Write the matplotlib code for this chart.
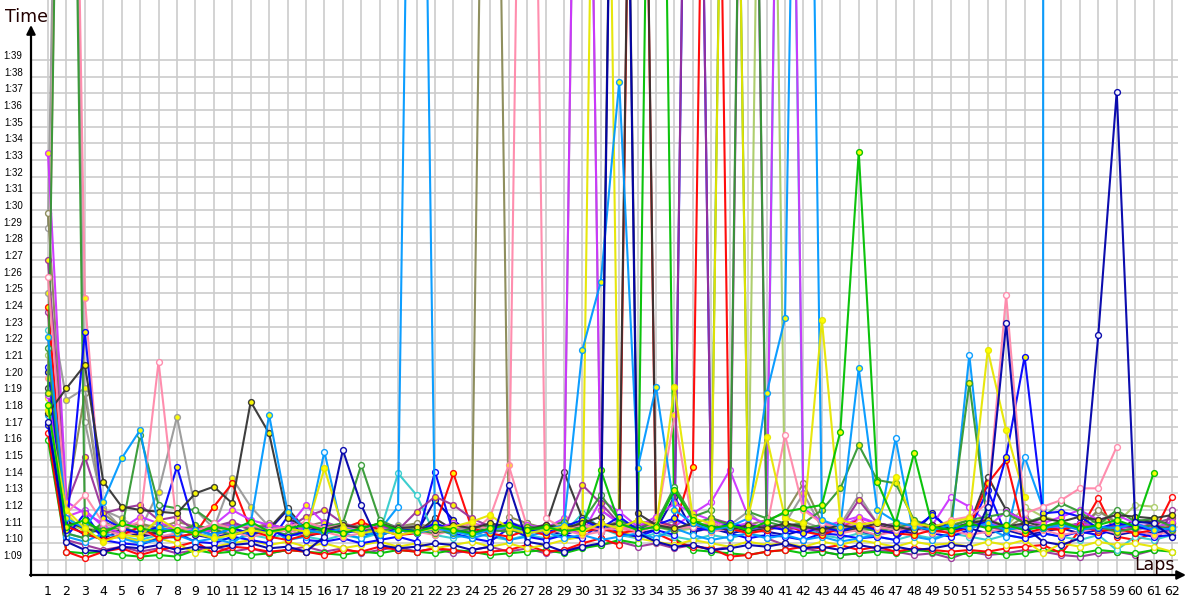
import matplotlib
matplotlib.use("Agg")
import matplotlib.pyplot as plt
import numpy as np
from matplotlib.transforms import ScaledTranslation

P = 150.0   # pit-stop lap, far above the visible range
V = 3000.0  # last lap before retiring, goes straight up

laps = list(range(1, 63))
y_ticks = list(range(69, 100))
y_tick_labels = [f"1:{s - 60:02d}" for s in y_ticks]

red_1 = [76.6, 69.5, 69.1, 69.5, 69.7, 69.3, 69.6, 69.8, 70.1, 69.4,
         69.8, 69.7, 69.5, 69.6, 69.5, 69.3, 69.6, 69.5, 69.8, 69.6,
         69.5, 69.7, 69.6, 69.4, 69.5, 69.6, 69.9, 69.5, 69.6, 70.0,
         70.3, 69.9, P, 70.6, 70.1, 69.8, 69.7, 69.2, 69.3, 69.5,
         69.6, 69.8, 69.7, 69.9, 69.6, 69.8, 69.5, 69.7, 69.6, 69.5,
         69.6, 69.5, 69.7, 69.8, 69.9, 69.4, 70.8, 72.7, 70.4, 70.2,
         70.6, 72.8]
red_2 = [84.2, 71.0, 70.6, 70.2, 70.5, 71.0, 70.3, 70.4, 70.6, 72.2,
         73.6, 70.8, 70.4, 70.2, 70.5, 70.6, 70.9, 71.3, 70.8, 70.5,
         70.6, 71.0, 74.2, 70.9, 70.6, 70.4, 70.8, 70.5, 71.0, 70.7,
         70.9, 70.6, 70.8, 71.3, 71.0, 74.6, P, 70.9, 70.6, 70.8,
         71.1, 70.7, 70.5, 70.9, 71.4, 70.8, 70.6, 70.5, 70.8, 70.6,
         71.0, 73.6, 75.0, 70.6, 70.9, 70.8, 71.1, 70.7, 70.9, 70.6,
         70.8, 71.0]
blue_1 = [80.6, 70.4, 71.8, 70.2, 70.0, 69.9, 70.3, 70.6, 70.1, 70.0,
          70.4, 70.2, 70.0, 71.6, 70.2, 70.1, 70.3, 70.0, 70.2, 70.4,
          70.1, 74.3, 70.6, 70.3, 70.1, 70.9, 70.4, 70.2, 70.5, 70.3,
          71.2, 70.6, 70.4, 70.8, 70.5, P, 71.4, 70.6, 70.3, 70.5,
          70.4, 70.2, 70.6, 70.5, 70.3, 70.4, 70.2, 71.3, 70.6, 70.4,
          70.8, 73.2, 70.5, 70.3, 70.6, 70.4, 70.7, 70.5, 70.9, 70.6,
          70.4, 70.5]
blue_2 = [77.1, 70.8, 82.7, 71.5, 70.9, 70.6, 71.0, 74.6, 70.8, 70.5,
          70.9, 70.6, 70.8, 70.4, 70.7, 71.0, 70.6, 70.8, 70.5, 70.9,
          70.7, 71.2, 70.8, 70.6, 70.9, 71.3, 70.8, 70.7, 71.0, 71.4,
          70.9, 71.6, 70.8, 71.1, 71.5, 70.9, 70.8, 71.2, 70.9, 71.0,
          70.8, 70.6, 71.0, 70.7, 71.1, 70.8, 70.6, 70.9, 71.7, 70.8,
          71.0, 71.3, 75.2, 81.2, 71.8, 71.9, 71.6, 70.9, 71.2, 71.0,
          70.8, 70.9]
navy_1 = [77.3, 70.1, 69.6, 69.5, 69.8, 69.7, 69.9, 69.6, 69.8, 69.7,
          69.9, 70.0, 69.7, 69.8, 69.5, 70.4, 75.6, 72.3, 69.9, 69.7,
          69.8, 70.0, 69.9, 69.6, 69.8, 73.5, 70.1, 69.9, 69.5, 69.8,
          70.0, P, 70.6, 70.1, 69.8, 69.9, 69.6, 69.7, 69.9, 69.8,
          70.0, 69.7, 69.8, 69.6, 69.9, 69.7, 69.8, 69.6, 69.7, 69.9,
          69.8, 72.2, 83.2, 71.0, 70.1, 69.9, 70.3, 82.5, 97.1, 71.3,
          71.2, 70.4]
navy_2 = [80.3, 71.2, 70.5, 70.3, 70.8, 70.4, 70.6, 70.9, 70.5, 70.3,
          70.7, 70.5, 70.8, 72.0, 70.4, 70.7, 70.9, 70.6, 70.5, 70.8,
          70.6, 72.6, 71.4, 70.5, 70.8, 71.0, 70.6, 70.8, 70.5, 70.9,
          70.7, 71.0, 70.6, 70.8, 72.8, 70.7, 70.9, 70.6, 70.8, 70.7,
          70.5, 70.8, 70.6, 70.9, 70.7, 70.5, 70.8, 70.6, 71.8, 70.7,
          70.9, 70.6, 70.8, 70.5, 70.7, 70.9, 70.6, 70.8, 70.5, 70.7,
          70.6, 70.8]
green_1 = [76.2, 69.5, 69.4, 69.5, 69.3, 69.2, 69.3, 69.2, 69.6, 69.4,
           69.5, 69.3, 69.4, 69.6, 69.5, 69.4, 69.3, 69.5, 69.4, 69.6,
           69.5, 69.4, 69.6, 69.5, 69.3, 69.4, 69.5, 69.6, 69.4, 69.7,
           69.9, 70.2, 70.0, P, 70.3, 69.6, 69.5, 69.4, 69.3, 69.5,
           69.6, 69.4, 69.5, 69.3, 69.4, 69.5, 69.4, 69.6, 69.5, 69.3,
           69.4, 69.5, 69.3, 69.4, 69.6, 69.5, 69.4, 69.6, 69.5, 69.4,
           69.6, 69.5]
green_2 = [78.3, 71.0, 71.4, 70.6, 71.2, 70.9, 70.7, 70.8, 70.6, 71.0,
           70.8, 71.3, 70.7, 70.9, 71.1, 70.8, 70.6, 70.9, 71.2, 70.8,
           70.7, 71.0, 70.8, 70.6, 70.9, 71.1, 70.8, 71.0, 70.7, 70.9,
           74.4, 71.2, 70.8, 71.0, 73.2, 71.4, 70.9, 71.1, 70.8, 71.3,
           71.9, 72.1, 72.3, 76.7, 93.5, 73.7, 71.2, 75.4, 71.0, 70.8,
           71.2, 70.9, 71.1, 70.8, 71.0, 71.3, 70.9, 71.1, 71.4, 71.0,
           74.2, None]
dkgreen_1 = [81.7, 70.6, 70.3, 71.3, 70.8, 76.5, 72.3, 72.1, 72.0, 71.2,
             70.9, 70.6, 70.8, 70.5, 70.7, 71.0, 71.2, 74.7, 71.4, 70.9,
             70.7, 70.8, 70.6, 70.9, 71.1, 70.8, 70.6, 71.0, 70.8, 71.3,
             72.9, 71.4, 70.9, 71.2, 73.4, 71.6, 72.0, P, 71.9, 71.5,
             71.2, 70.9, 71.1, 70.8, 71.0, 70.7, 70.9, 71.2, 70.8, 71.0,
             71.4, 71.6, 71.8, 71.2, 71.6, 72.4, 71.9, 71.1, 72.0, 71.3,
             71.5, 71.0]
dkgreen_2 = [79.0, P, 71.2, 70.8, 71.0, 70.6, 70.9, 70.7, 71.1, 70.8,
             70.5, 70.9, 70.7, 71.0, 70.6, 70.8, 71.1, 70.9, 70.7, 71.0,
             70.8, 70.6, 70.9, 71.2, 70.8, 70.7, 71.0, 70.9, 71.3, 70.8,
             71.1, 70.9, 71.4, 71.0, 70.8, 71.2, 71.5, 71.1, P, 71.3,
             71.0, 71.2, 72.0, 73.3, 75.9, 73.8, 73.6, 71.4, 71.0, 71.2,
             79.6, 71.1, 70.8, 71.0, 70.9, 71.2, 70.8, 71.0, 70.7, 70.9,
             71.1, 70.8]
ltblue_1 = [77.7, 70.4, 70.1, 70.6, 70.3, 70.0, 70.2, 70.5, 70.1, 70.3,
            70.0, 70.8, 71.0, 70.2, 70.4, 75.5, 70.6, 70.3, 70.8, 72.2,
            P, 70.9, 70.5, 70.3, 70.6, 70.2, 70.4, 70.7, 70.3, 70.5,
            70.2, 70.4, 70.6, 70.3, 70.9, 70.5, 70.2, 70.4, 70.6, 70.3,
            70.5, 70.2, 70.4, 70.1, 70.3, 70.5, 76.3, 70.4, 70.2, 70.6,
            81.3, 70.9, 70.4, 75.2, 72.1, V, None, None, None, None,
            None, None]
ltblue_2 = [82.4, 71.5, 70.9, 72.5, 75.1, 76.8, 71.0, 70.6, 70.8, 70.5,
            70.9, 71.2, 77.7, 71.9, 70.8, 70.6, 70.9, 70.7, 70.5, 70.8,
            70.6, 70.9, 70.7, 70.5, 70.8, 71.0, 70.6, 70.8, 71.1, 81.6,
            85.7, 97.7, 74.5, 79.4, 72.0, 71.2, 70.8, 71.0, 71.5, 79.0,
            83.5, P, 71.4, 71.0, 80.5, 72.0, 71.3, 71.0, 70.8, 71.1,
            70.9, 71.2, 70.8, 71.0, 70.9, 71.1, 70.8, 71.0, 70.9, 71.2,
            70.8, 70.9]
pink_1 = [86.0, 71.8, 72.9, 71.2, 70.9, 71.3, 80.9, 71.0, 70.7, 71.2,
          70.9, 71.1, 70.8, 71.0, 71.3, 70.9, 71.1, 70.8, 71.2, 70.9,
          71.0, 70.7, 70.9, 71.2, 70.8, 71.0, P, 71.5, 70.9, 71.1,
          70.8, 71.0, 70.7, 71.2, 70.9, 71.0, 71.3, 70.8, 71.1, 70.9,
          76.5, 72.0, 71.2, 70.9, 71.3, 71.0, 70.8, 71.1, 70.9, 71.4,
          71.6, 72.4, 84.9, 71.8, 72.2, 72.6, 73.3, 73.3, 75.8, None,
          None, None]
pink_2 = [79.9, P, 84.7, 70.8, 70.5, 70.7, 70.4, 70.6, 70.9, 70.5,
          70.7, 70.4, 70.6, 70.8, 70.5, 70.7, 70.4, 70.6, 70.9, 70.5,
          70.7, 70.5, 70.8, 70.6, 71.6, 74.7, 71.0, 70.6, 70.8, 70.5,
          70.7, 70.9, 70.6, 71.1, 77.7, 71.0, 70.7, 70.9, 70.6, 70.8,
          71.2, 70.7, 70.9, 70.6, 70.8, 70.5, 70.7, 70.9, 70.6, 70.8,
          70.5, 70.7, 70.9, 70.6, 70.8, 70.5, 70.7, 70.9, 70.6, 70.8,
          70.5, 70.7]
yellow_1 = [78.7, 71.8, 70.6, 70.2, 70.4, 70.1, 70.3, 70.0, 69.4, 69.8,
            70.0, 70.2, 69.9, 70.1, 69.8, 70.0, 69.7, 69.9, 70.1, 69.8,
            70.0, 69.7, 69.9, 70.1, 69.8, 70.0, 69.7, 69.9, 70.2, 70.4,
            P, 70.8, 70.3, 70.1, 69.9, 70.2, 70.0, 69.8, 70.1, 69.9,
            70.0, 69.8, 70.1, 69.9, 70.2, 70.0, 69.8, 70.1, 69.9, 70.0,
            69.8, 70.1, 69.9, 70.2, 69.4, 70.0, 69.8, 70.1, 69.9, 70.0,
            69.8, 69.5]
yellow_2 = [78.0, 72.0, 70.9, 70.1, 70.5, 70.4, 71.5, 70.8, 70.6, 70.3,
            70.5, 70.8, 70.6, 70.9, 70.7, 74.5, 70.9, 70.6, 70.8, 70.5,
            70.7, 70.9, 71.0, 71.3, 71.7, 70.9, 70.6, 70.8, 71.0, 70.7,
            71.2, 70.9, 71.4, 71.0, 79.4, 71.5, 71.2, P, 71.6, 76.4,
            71.5, 71.2, 83.4, 71.4, 71.1, 71.3, 74.0, 71.2, 71.0, 71.3,
            71.5, 81.6, 76.8, 72.8, None, None, None, None, None, None,
            None, None]
gray_1 = [88.9, P, 77.3, 72.1, 70.9, 71.2, 70.8, 71.0, 70.7, 70.9,
          71.2, 70.8, 71.0, 70.7, 70.9, 71.1, 70.8, 71.0, 70.7, 70.9,
          71.1, 70.8, 71.0, 70.7, 70.9, 71.2, 70.8, 71.0, 71.3, P,
          72.0, 71.2, 70.9, 71.1, 70.8, 71.0, 71.2, 70.9, 71.1, 70.8,
          71.0, 71.3, 70.9, 71.1, 72.9, 71.2, 71.0, 70.8, 71.1, 70.9,
          71.2, 71.0, 70.8, 71.1, 70.9, 71.2, 71.0, 71.9, 71.3, 71.0,
          70.8, 71.1]
gray_2 = [85.0, 78.6, 79.3, 72.0, 71.5, 70.8, 73.1, 77.6, 72.0, 70.9,
          73.9, 72.2, 71.0, 70.8, 71.1, 70.9, 70.7, 71.0, 70.8, 71.1,
          70.9, 71.2, 70.8, 71.0, 70.7, 71.3, 70.9, 71.1, 70.8, 71.0,
          71.2, 70.9, 71.1, 70.8, 71.4, 71.0, 70.8, 71.1, 71.9, 70.9,
          71.2, 73.0, 70.9, 71.1, 70.8, 71.0, 71.2, 70.9, 71.1, 70.8,
          71.0, 71.3, 70.9, 71.1, 70.8, 71.0, 71.2, 70.9, 71.1, 70.8,
          71.0, 71.2]
dkgray_1 = [79.3, 71.3, 70.9, 70.6, 70.8, 70.5, 70.7, 70.9, 70.6, 70.8,
            70.5, 70.7, 70.9, 72.1, 70.8, 70.6, 70.9, 70.7, 70.5, 70.8,
            70.6, 71.5, 70.8, 70.6, 70.9, 71.2, 70.8, 71.0, 74.3, 71.5,
            71.0, 71.2, P, 71.3, 70.9, 71.1, 70.8, 71.0, 70.7, 70.9,
            71.1, 70.8, 71.0, 70.7, 70.9, 71.1, 70.8, 71.0, 70.7, 70.9,
            71.1, 74.0, 72.0, 71.3, 71.0, 70.9, 71.2, 71.0, 70.8, 71.4,
            71.3, 71.2]
dkgray_2 = [77.8, 79.3, 80.7, 73.7, 72.2, 72.0, 71.9, 71.8, 73.0, 73.4,
            72.4, 78.5, 76.6, 71.5, 71.0, 70.8, 71.1, 70.9, 71.2, 70.9,
            71.0, 70.8, 71.1, 70.9, 71.2, 71.0, 70.8, 71.1, 70.9, 71.2,
            71.6, P, 71.8, 71.1, 70.9, 71.2, 71.0, 70.8, 71.1, 70.9,
            71.2, 71.0, 70.8, 71.1, 70.9, 71.2, 71.0, 70.8, 71.1, 70.9,
            71.2, 71.4, 71.0, 71.2, 71.5, 71.3, 71.6, 71.4, 71.7, 71.6,
            71.5, 71.7]
olive_1 = [89.8, 72.4, 79.0, 71.8, 70.9, 71.2, 70.9, 71.3, 71.0, 70.8,
           71.1, 70.9, 71.2, 70.8, 71.0, 71.3, 70.9, 71.1, 70.8, 71.0,
           71.2, 70.9, 71.1, 70.8, P, 71.6, 71.2, 70.9, 71.1, 70.8,
           71.0, 71.3, 70.9, 71.1, 70.8, 71.2, 71.0, 70.9, 71.1, 71.4,
           71.8, 73.6, 71.2, 70.9, 71.1, 70.8, 71.0, 71.2, 70.9, 71.1,
           71.4, 71.2, 70.9, 71.6, 71.0, 71.3, 70.9, 72.0, 71.2, 71.0,
           70.9, 71.2]
purple_1 = [87.0, 72.3, 75.2, 71.8, 72.1, 72.3, 71.4, 71.6, 70.7, 71.0,
            71.3, 70.8, 71.1, 70.9, 71.6, 72.0, 71.2, 70.9, 71.1, 70.8,
            71.9, 72.8, 72.3, 71.5, 71.0, 71.2, 70.9, 71.1, 70.8, 73.5,
            72.4, 71.2, 70.9, 71.4, 71.0, P, 71.5, 71.2, 70.9, 71.1,
            70.8, 71.0, 70.7, 70.9, 72.6, 71.2, 71.0, 70.8, 71.1, 70.9,
            71.2, 71.0, 70.8, 71.1, 70.9, 71.2, 71.0, 70.8, 71.1, 70.9,
            71.2, 71.5]
purple_2 = [83.9, 70.2, 69.9, 69.6, 69.8, 69.5, 69.7, 69.4, 69.6, 69.8,
            69.5, 69.7, 69.4, 69.6, 69.8, 69.5, 69.7, 69.4, 69.6, 69.8,
            69.5, 69.7, 69.4, 69.6, 69.8, 69.5, 69.7, 69.4, 69.6, 69.8,
            69.9, 70.1, 69.8, 70.0, 69.7, 69.9, 69.6, 69.8, P, 70.3,
            69.9, 69.7, 69.5, 69.3, 69.4, 69.6, 69.5, 69.3, 69.4, 69.1,
            69.5, 69.3, 69.4, 69.6, 69.5, 69.3, 69.2, 69.4, 69.5, 69.3,
            69.6, 72.0]
magenta_1 = [93.4, 72.5, 71.8, 71.2, 70.9, 71.6, 71.2, 71.0, 70.8, 71.1,
             72.0, 71.4, 71.1, 70.9, 72.3, 71.2, 71.0, 70.8, 71.2, 71.0,
             70.8, 71.1, 70.9, 71.2, 71.0, 70.8, 71.1, 70.9, 71.5, P,
             72.0, 71.2, 71.0, 71.6, 72.4, 71.8, 71.4, 71.0, 71.2, 70.9,
             71.1, 70.8, 71.0, 71.3, 71.6, 71.2, 71.0, 70.8, 71.1, 70.9,
             71.2, 71.0, 71.9, 71.4, 71.2, 71.6, 72.0, 71.4, 71.7, 71.2,
             70.9, 71.3]
magenta_2 = [78.9, 71.6, 72.0, 71.0, 70.6, 70.9, 70.7, 71.0, 70.6, 70.8,
             71.2, 70.9, 70.7, 71.0, 70.8, 70.6, 70.9, 70.7, 71.0, 70.8,
             70.6, 70.9, 71.2, 70.8, 70.6, 70.9, 70.7, 71.0, 70.8, 70.6,
             72.6, 71.9, 71.0, 71.3, 71.0, 71.8, 72.5, 74.4, 71.6, 71.2,
             P, 72.1, 71.3, 71.0, 71.5, 71.2, 71.0, 70.8, 71.1, 72.8,
             72.2, 71.2, 71.0, 70.8, 71.1, 70.9, 71.2, 71.0, 70.8, 71.1,
             70.9, 70.8]
cyan_1 = [82.8, 70.6, 70.3, 71.1, 70.4, 70.2, 70.5, 70.3, 70.6, 70.4,
          70.2, 70.5, 70.3, 70.6, 70.4, 70.2, 70.5, 70.3, 70.6, 74.2,
          72.9, 70.5, 70.3, 70.6, 70.4, 70.2, 70.5, 70.3, 70.6, 71.8,
          70.9, 70.5, 70.3, 70.6, 70.4, 70.2, 70.5, 70.3, 70.6, 70.4,
          P, 71.0, 70.5, 70.3, 70.6, 70.4, 70.2, 70.5, 70.3, 70.6,
          70.4, 70.2, 70.5, 70.3, 70.6, 70.4, 70.2, 70.5, 69.6, 70.4,
          70.2, 70.5]
ltgreen_1 = [81.3, 71.2, 70.8, 71.0, 70.7, 70.9, 71.2, 70.8, 71.0, 70.7,
             70.9, 71.1, 70.8, 71.0, 70.7, 70.9, 71.2, 70.8, 71.0, 70.7,
             70.9, 71.1, 70.8, 71.0, 70.7, 70.9, 71.2, 70.8, 71.0, 70.7,
             70.9, 71.1, 70.8, 71.0, 70.7, 70.9, 71.2, 70.8, 71.0, P,
             71.6, 71.1, 70.8, 71.0, 70.7, 70.9, 71.2, 70.8, 71.0, 70.7,
             71.2, 71.5, 71.0, 72.2, 71.6, 71.3, 71.0, 71.4, 71.2, 72.3,
             72.2, None]

# (values, line colour, marker fill) in drawing order
series = [
    (purple_2, "#993399", "white"),
    (green_1, "#00c000", "white"),
    (red_1, "#ff0000", "white"),
    (navy_2, "#0000aa", "#ffff00"),
    (cyan_1, "#33cccc", "white"),
    (ltgreen_1, "#aacc66", "white"),
    (yellow_1, "#e6e600", "white"),
    (gray_1, "#999999", "white"),
    (olive_1, "#888855", "white"),
    (gray_2, "#999999", "#ffff00"),
    (dkgray_1, "#333333", "white"),
    (magenta_2, "#cc33ff", "white"),
    (blue_1, "#0000ff", "white"),
    (ltblue_1, "#0099ff", "white"),
    (pink_2, "#ff88aa", "#ffff00"),
    (red_2, "#ff0000", "#ffff00"),
    (purple_1, "#993399", "#ffff00"),
    (magenta_1, "#cc33ff", "#ffff00"),
    (dkgreen_1, "#339933", "white"),
    (dkgreen_2, "#339933", "#ffff00"),
    (blue_2, "#0000ff", "#ffff00"),
    (pink_1, "#ff88aa", "white"),
    (dkgray_2, "#333333", "#ffff00"),
    (ltblue_2, "#0099ff", "#ffff00"),
    (yellow_2, "#e6e600", "#ffff00"),
    (green_2, "#00c000", "#ffff00"),
    (navy_1, "#0000aa", "white"),
]

W, H = 1200, 600
fig = plt.figure(figsize=(12, 6), dpi=100)
fig.patch.set_facecolor("white")

# axes box in pixels: left 31, right 1178, bottom 575, top 0
ax = fig.add_axes([31 / W, 25 / H, (1178 - 31) / W, 575 / H])
px_per_lap = (1172 - 48) / 61
px_per_sec = 500 / 30
ax.set_xlim(1 - 17 / px_per_lap, 62 + 6 / px_per_lap)
ax.set_ylim(69 - 15 / px_per_sec, 69 + 560 / px_per_sec)
for side in ["top", "right", "left", "bottom"]:
    ax.spines[side].set_visible(False)

# grid
for lap in laps:
    ax.axvline(lap, color="#cccccc", lw=1.2, zorder=0)
for s in y_ticks:
    ax.axhline(s, color="#cccccc", lw=1.2, zorder=0)

for values, color, fill in series:
    vals = np.array(values, dtype=float)
    assert len(vals) == 62, len(vals)
    ax.plot(laps, vals, color=color, lw=1.5, alpha=0.95, zorder=2,
            marker="o", markersize=4.2, markerfacecolor=fill,
            markeredgecolor=color, markeredgewidth=1.0, solid_joinstyle="round")

ax.set_xticks(laps)
ax.set_xticklabels([str(l) for l in laps], fontsize=9)
ax.set_yticks(y_ticks)
ax.set_yticklabels(y_tick_labels, fontsize=7, family="Liberation Sans")
ax.tick_params(axis="both", length=0)
ax.tick_params(axis="x", pad=7)
ax.tick_params(axis="y", pad=6)
shift = ScaledTranslation(0, 5 / 100, fig.dpi_scale_trans)
for label in ax.get_yticklabels():
    label.set_transform(label.get_transform() + shift)

# axis lines with arrow heads
ax.annotate("", xy=(31 / W, 1 - 25 / H), xytext=(31 / W, 1 - 576 / H),
            xycoords="figure fraction", textcoords="figure fraction",
            arrowprops=dict(arrowstyle="-|>", color="black", lw=1.6, mutation_scale=13,
                            shrinkA=0, shrinkB=0))
ax.annotate("", xy=(1186 / W, 1 - 575 / H), xytext=(30 / W, 1 - 575 / H),
            xycoords="figure fraction", textcoords="figure fraction",
            arrowprops=dict(arrowstyle="-|>", color="black", lw=1.6, mutation_scale=13,
                            shrinkA=0, shrinkB=0))
fig.text(5 / W, 1 - 22 / H, "Time", fontsize=12.5, color="#220000", ha="left", va="baseline")
fig.text(1175 / W, 1 - 570 / H, "Laps", fontsize=12.5, color="#220000", ha="right", va="baseline")

fig.savefig("out.png", dpi=100, facecolor="white")
plt.close(fig)
